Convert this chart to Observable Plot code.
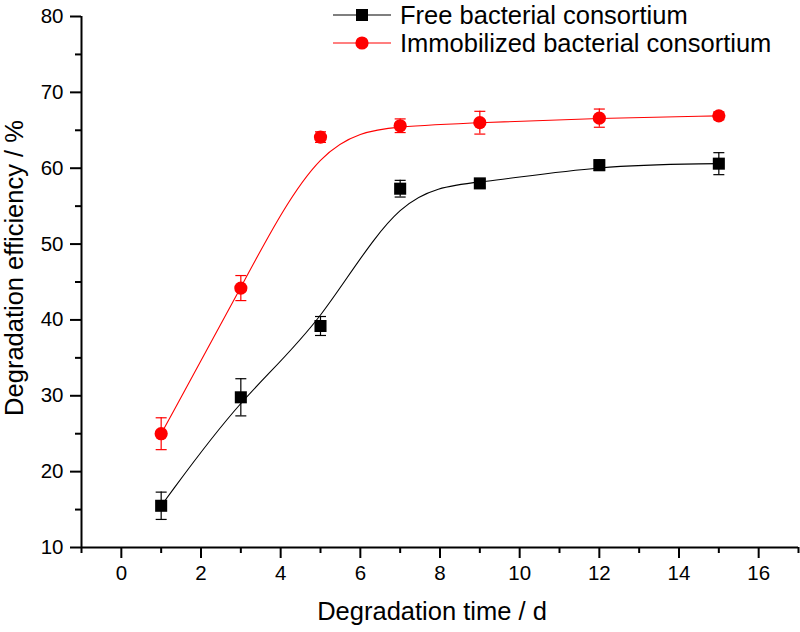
<!DOCTYPE html>
<html>
<head>
<meta charset="utf-8">
<script src="https://cdn.jsdelivr.net/npm/d3@7"></script>
<script src="https://cdn.jsdelivr.net/npm/@observablehq/plot@0.6"></script>
<style>
  body { margin: 0; background: #fff; }
  #wrap { position: relative; width: 800px; height: 632px; font-family: "Liberation Sans", Arial, sans-serif; }
  #legend { position: absolute; left: 333px; top: 0; }
  .row { position: absolute; left: 0; display: flex; align-items: center; height: 22px; white-space: nowrap; }
  .row span { font-size: 25.5px; color: #000; margin-left: 9px; line-height: 22px; }
</style>
</head>
<body>
<div id="wrap"><div id="legend"></div></div>
<script>
// ---- data ----
const days = [1, 3, 5, 7, 9, 12, 15];
const freeVals = [15.5, 29.8, 39.2, 57.3, 58.0, 60.4, 60.6];
const freeErr = [1.8, 2.45, 1.25, 1.1, 0.5, 0.7, 1.45];
const immobVals = [25.0, 44.2, 64.1, 65.6, 66.0, 66.6, 66.9];
const immobErr = [2.1, 1.65, 0.7, 0.9, 1.5, 1.2, 0.5];
const seriesNames = ["Free bacterial consortium", "Immobilized bacterial consortium"];
const seriesColors = ["#000000", "#ff0000"];
const seriesSymbols = ["square", "circle"];
const xMajorTicks = [0, 2, 4, 6, 8, 10, 12, 14, 16];
const xMinorTicks = [-1, 1, 3, 5, 7, 9, 11, 13, 15, 17];
const yMajorTicks = [10, 20, 30, 40, 50, 60, 70, 80];
const yMinorTicks = [15, 25, 35, 45, 55, 65, 75];
const xTitle = "Degradation time / d";
const yTitle = "Degradation efficiency / %";

const free = days.map((d, i) => ({day: d, v: freeVals[i], e: freeErr[i]}));
const immob = days.map((d, i) => ({day: d, v: immobVals[i], e: immobErr[i]}));

// horizontal cap symbol for error bars
const capSymbol = {
  draw(context, size) {
    const r = Math.sqrt(size / Math.PI);
    context.moveTo(-r, 0);
    context.lineTo(r, 0);
  }
};

function seriesMarks(data, color, symbol, r) {
  return [
    Plot.ruleX(data, {x: "day", y1: d => d.v - d.e, y2: d => d.v + d.e, stroke: color, strokeWidth: 1.2}),
    Plot.dot(data, {x: "day", y: d => d.v + d.e, symbol: capSymbol, r: 5.5, stroke: color, strokeWidth: 1.2, fill: "none"}),
    Plot.dot(data, {x: "day", y: d => d.v - d.e, symbol: capSymbol, r: 5.5, stroke: color, strokeWidth: 1.2, fill: "none"}),
    Plot.line(data, {x: "day", y: "v", curve: "basis", stroke: color, strokeWidth: 1.1}),
    Plot.dot(data, {x: "day", y: "v", symbol, r, fill: color, stroke: "none"})
  ];
}

const chart = Plot.plot({
  width: 800,
  height: 632,
  marginTop: 16,
  marginRight: 2,
  marginBottom: 85,
  marginLeft: 81,
  style: {fontFamily: "'Liberation Sans', Arial, sans-serif", fontSize: "20px", color: "#000", background: "#fff"},
  x: {domain: [-1, 17]},
  y: {domain: [10, 80]},
  marks: [
    Plot.axisX({ticks: xMajorTicks, tickSize: 11, tickPadding: 7, strokeWidth: 2, fontSize: 20.5, label: null}),
    Plot.axisX({ticks: xMinorTicks, tickSize: 6, strokeWidth: 2, tickFormat: () => "", label: null}),
    Plot.axisY({ticks: yMajorTicks, tickSize: 11, tickPadding: 7, strokeWidth: 2, fontSize: 20.5, label: null}),
    Plot.axisY({ticks: yMinorTicks, tickSize: 6, strokeWidth: 2, tickFormat: () => "", label: null}),
    Plot.ruleX([-1], {strokeWidth: 2}),
    Plot.ruleY([10], {strokeWidth: 2}),
    Plot.text([xTitle], {text: d => d, frameAnchor: "bottom", textAnchor: "middle", dx: -8, dy: 64, fontSize: 25.5, lineAnchor: "middle"}),
    Plot.text([yTitle], {text: d => d, frameAnchor: "left", textAnchor: "middle", rotate: -90, dx: -67, dy: -14, fontSize: 25.5, lineAnchor: "middle"}),
    ...seriesMarks(free, seriesColors[0], "square", 6.8),
    ...seriesMarks(immob, seriesColors[1], "circle", 6.6)
  ]
});
document.getElementById("wrap").prepend(chart);

// legend overlay
const legend = document.getElementById("legend");
const rowTops = [3.5, 32];
seriesNames.forEach((name, i) => {
  const row = document.createElement("div");
  row.className = "row";
  row.style.top = rowTops[i] + "px";
  const c = seriesColors[i];
  const sym = seriesSymbols[i] === "square"
    ? `<rect x="23" y="5" width="12" height="12" fill="${c}"/>`
    : `<circle cx="29" cy="11" r="6.6" fill="${c}"/>`;
  row.innerHTML = `<svg width="58" height="22" style="display:block"><line x1="0" x2="58" y1="11" y2="11" stroke="${c}" stroke-width="1.1"/>${sym}</svg><span>${name}</span>`;
  legend.appendChild(row);
});
</script>
</body>
</html>
